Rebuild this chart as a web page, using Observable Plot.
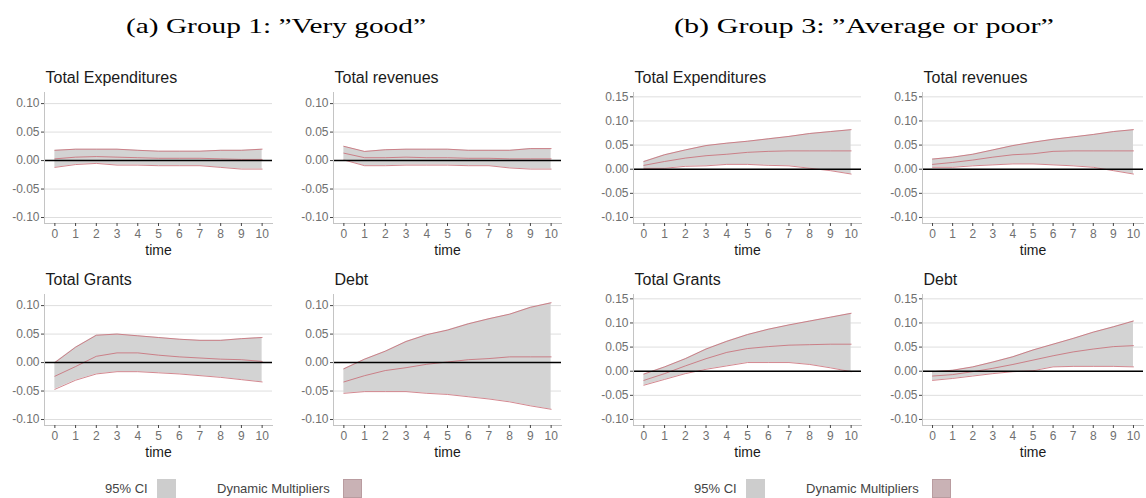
<!DOCTYPE html>
<html>
<head>
<meta charset="utf-8">
<script src="https://cdn.jsdelivr.net/npm/d3@7"></script>
<script src="https://cdn.jsdelivr.net/npm/@observablehq/plot@0.6"></script>
<style>
  body { margin: 0; background: #fff; }
  #root { position: relative; width: 1146px; height: 498px; overflow: hidden; background: #fff;
          font-family: "Liberation Sans", Arial, sans-serif; }
  .cap { position: absolute; font-family: "Liberation Serif", "DejaVu Serif", serif; font-size: 22px;
         line-height: 22px; color: #000; white-space: nowrap; transform-origin: 0 50%; }
  .panel { position: absolute; height: 200px; }
  .panel svg { max-width: none !important; }
  .leg { position: absolute; font-size: 13px; line-height: 14px; color: #444; white-space: nowrap; }
  .sw { position: absolute; width: 19px; height: 19px; }
</style>
</head>
<body>
<div id="root"></div>
<script>
// Horizon of the dynamic multipliers
const time = [0, 1, 2, 3, 4, 5, 6, 7, 8, 9, 10];

// Group 1: "Very good"
const g1ExpLo  = [-0.012, -0.007, -0.005, -0.008, -0.008, -0.009, -0.009, -0.009, -0.012, -0.015, -0.015];
const g1ExpMid = [0.003, 0.006, 0.007, 0.006, 0.005, 0.004, 0.004, 0.004, 0.003, 0.002, 0.002];
const g1ExpHi  = [0.018, 0.020, 0.020, 0.020, 0.018, 0.0165, 0.0165, 0.0165, 0.018, 0.018, 0.020];

const g1RevLo  = [0.001, -0.009, -0.009, -0.008, -0.008, -0.008, -0.009, -0.009, -0.013, -0.015, -0.015];
const g1RevMid = [0.013, 0.005, 0.005, 0.006, 0.005, 0.005, 0.004, 0.004, 0.003, 0.003, 0.003];
const g1RevHi  = [0.025, 0.016, 0.019, 0.020, 0.020, 0.020, 0.018, 0.018, 0.018, 0.021, 0.021];

const g1GraLo  = [-0.047, -0.031, -0.020, -0.016, -0.016, -0.018, -0.020, -0.023, -0.026, -0.030, -0.034];
const g1GraMid = [-0.024, -0.007, 0.011, 0.017, 0.017, 0.013, 0.010, 0.008, 0.006, 0.005, 0.002];
const g1GraHi  = [0.000, 0.027, 0.048, 0.050, 0.047, 0.044, 0.041, 0.039, 0.039, 0.042, 0.044];

const g1DebLo  = [-0.054, -0.051, -0.051, -0.051, -0.054, -0.056, -0.060, -0.064, -0.069, -0.076, -0.082];
const g1DebMid = [-0.034, -0.023, -0.014, -0.009, -0.003, 0.001, 0.005, 0.007, 0.010, 0.010, 0.010];
const g1DebHi  = [-0.011, 0.006, 0.020, 0.037, 0.049, 0.057, 0.068, 0.077, 0.085, 0.097, 0.105];

// Group 3: "Average or poor"
const g3ExpLo  = [0.002, 0.002, 0.006, 0.007, 0.010, 0.010, 0.008, 0.007, 0.002, -0.003, -0.010];
const g3ExpMid = [0.008, 0.016, 0.023, 0.028, 0.031, 0.035, 0.037, 0.038, 0.038, 0.038, 0.038];
const g3ExpHi  = [0.016, 0.030, 0.040, 0.049, 0.054, 0.058, 0.063, 0.068, 0.074, 0.078, 0.082];

const g3RevLo  = [0.004, 0.004, 0.007, 0.009, 0.011, 0.011, 0.009, 0.007, 0.004, -0.003, -0.010];
const g3RevMid = [0.010, 0.014, 0.019, 0.025, 0.030, 0.032, 0.037, 0.038, 0.038, 0.038, 0.038];
const g3RevHi  = [0.021, 0.025, 0.031, 0.040, 0.049, 0.056, 0.062, 0.067, 0.072, 0.078, 0.082];

const g3GraLo  = [-0.029, -0.017, -0.005, 0.004, 0.011, 0.018, 0.018, 0.018, 0.014, 0.007, -0.001];
const g3GraMid = [-0.019, -0.005, 0.011, 0.026, 0.039, 0.047, 0.051, 0.054, 0.055, 0.056, 0.056];
const g3GraHi  = [-0.006, 0.009, 0.026, 0.046, 0.062, 0.076, 0.087, 0.096, 0.104, 0.112, 0.120];

const g3DebLo  = [-0.019, -0.015, -0.010, -0.005, -0.001, 0.001, 0.009, 0.010, 0.010, 0.010, 0.009];
const g3DebMid = [-0.010, -0.007, -0.001, 0.006, 0.014, 0.023, 0.032, 0.040, 0.046, 0.051, 0.053];
const g3DebHi  = [-0.001, 0.002, 0.009, 0.019, 0.030, 0.044, 0.056, 0.068, 0.081, 0.092, 0.104];

// Panel titles and y-axis ticks
const panelTitles = ["Total Expenditures", "Total revenues", "Total Grants", "Debt"];
const g1Ticks = [-0.10, -0.05, 0.00, 0.05, 0.10];
const g3Ticks = [-0.10, -0.05, 0.00, 0.05, 0.10, 0.15];

const groups = [
  {
    caption: "(a) Group 1: \u201DVery good\u201D",
    ticks: g1Ticks,
    domain: [-0.1105, 0.1195],
    plotWidths: [228, 228],
    series: [[g1ExpLo, g1ExpMid, g1ExpHi], [g1RevLo, g1RevMid, g1RevHi],
             [g1GraLo, g1GraMid, g1GraHi], [g1DebLo, g1DebMid, g1DebHi]]
  },
  {
    caption: "(b) Group 3: \u201DAverage or poor\u201D",
    ticks: g3Ticks,
    domain: [-0.1125, 0.159],
    plotWidths: [228, 221],
    series: [[g3ExpLo, g3ExpMid, g3ExpHi], [g3RevLo, g3RevMid, g3RevHi],
             [g3GraLo, g3GraMid, g3GraHi], [g3DebLo, g3DebMid, g3DebHi]]
  }
];

const bandFill = "#d3d3d3";
const lineRed = "#c86a74";
const marginLeft = 44, marginRight = 10;

function panel(title, [lo, mid, hi], domain, ticks, plotWidth) {
  const rows = time.map((t, i) => ({t, lo: lo[i], mid: mid[i], hi: hi[i]}));
  return Plot.plot({
    width: marginLeft + plotWidth + marginRight, height: 200,
    marginLeft, marginRight, marginTop: 32, marginBottom: 37,
    x: {domain: [-0.5, 10.5], label: null},
    y: {domain, label: null},
    style: {fontFamily: "'Liberation Sans', Arial, sans-serif", fontSize: "12px",
            color: "#707070", background: "transparent", overflow: "visible"},
    marks: [
      Plot.gridY(ticks, {stroke: "#dedede", strokeOpacity: 1}),
      Plot.areaY(rows, {x: "t", y1: "lo", y2: "hi", fill: bandFill}),
      Plot.lineY(rows, {x: "t", y: "lo", stroke: lineRed, strokeWidth: 0.8}),
      Plot.lineY(rows, {x: "t", y: "hi", stroke: lineRed, strokeWidth: 0.8}),
      Plot.lineY(rows, {x: "t", y: "mid", stroke: lineRed, strokeWidth: 0.8}),
      Plot.ruleY([0], {stroke: "#000", strokeWidth: 1.6}),
      Plot.frame({anchor: "left", stroke: "#c4c4c4"}),
      Plot.frame({anchor: "bottom", stroke: "#c4c4c4"}),
      Plot.axisX(time, {tickSize: 3, tickPadding: 3, stroke: "#444", tickFormat: d => String(d), label: null}),
      Plot.axisY(ticks, {tickSize: 3, tickPadding: 2, stroke: "#444", tickFormat: d => d.toFixed(2), label: null}),
      Plot.text([title], {text: d => d, frameAnchor: "top-left", dx: 1, dy: -10, textAnchor: "start",
                          lineAnchor: "bottom", fontSize: 16, fill: "#1a1a1a"}),
      Plot.text(["time"], {text: d => d, frameAnchor: "bottom", dy: 27, lineAnchor: "middle",
                           fontSize: 14, fill: "#1a1a1a"})
    ]
  });
}

const root = document.getElementById("root");
const groupOffsets = [0, 589];
// Caption boxes (left edge and width) for each sub-figure
const captionLeft = [126, 674];
const captionWidth = [300, 380];
const cellLeft = [0, 289];
const cellTop = [60, 262];

groups.forEach((g, gi) => {
  const x0 = groupOffsets[gi];
  const cap = document.createElement("div");
  cap.className = "cap";
  cap.style.left = captionLeft[gi] + "px";
  cap.style.top = "15px";
  cap.textContent = g.caption;
  root.appendChild(cap);
  const natural = cap.getBoundingClientRect().width;
  cap.style.transform = `scaleX(${captionWidth[gi] / natural})`;

  g.series.forEach((s, pi) => {
    const col = pi % 2;
    const svg = panel(panelTitles[pi], s, g.domain, g.ticks, g.plotWidths[col]);
    const wrap = document.createElement("div");
    wrap.className = "panel";
    wrap.style.left = (x0 + cellLeft[col]) + "px";
    wrap.style.top = cellTop[Math.floor(pi / 2)] + "px";
    wrap.style.width = (marginLeft + g.plotWidths[col] + marginRight) + "px";
    wrap.appendChild(svg);
    root.appendChild(wrap);
  });

  // Legend: confidence band and multiplier swatches
  const items = [
    {label: "95% CI", tx: 105, sx: 157, fill: "#cdcdcd", stroke: "none"},
    {label: "Dynamic Multipliers", tx: 217, sx: 343, fill: "#c9b2b5", stroke: "#b99ca0"}
  ];
  items.forEach(it => {
    const t = document.createElement("div");
    t.className = "leg";
    t.style.left = (x0 + it.tx) + "px";
    t.style.top = "482px";
    t.textContent = it.label;
    root.appendChild(t);
    const sw = document.createElement("div");
    sw.className = "sw";
    sw.style.left = (x0 + it.sx) + "px";
    sw.style.top = "479px";
    sw.style.background = it.fill;
    if (it.stroke !== "none") sw.style.boxShadow = "inset 0 0 0 1px " + it.stroke;
    root.appendChild(sw);
  });
});
</script>
</body>
</html>
